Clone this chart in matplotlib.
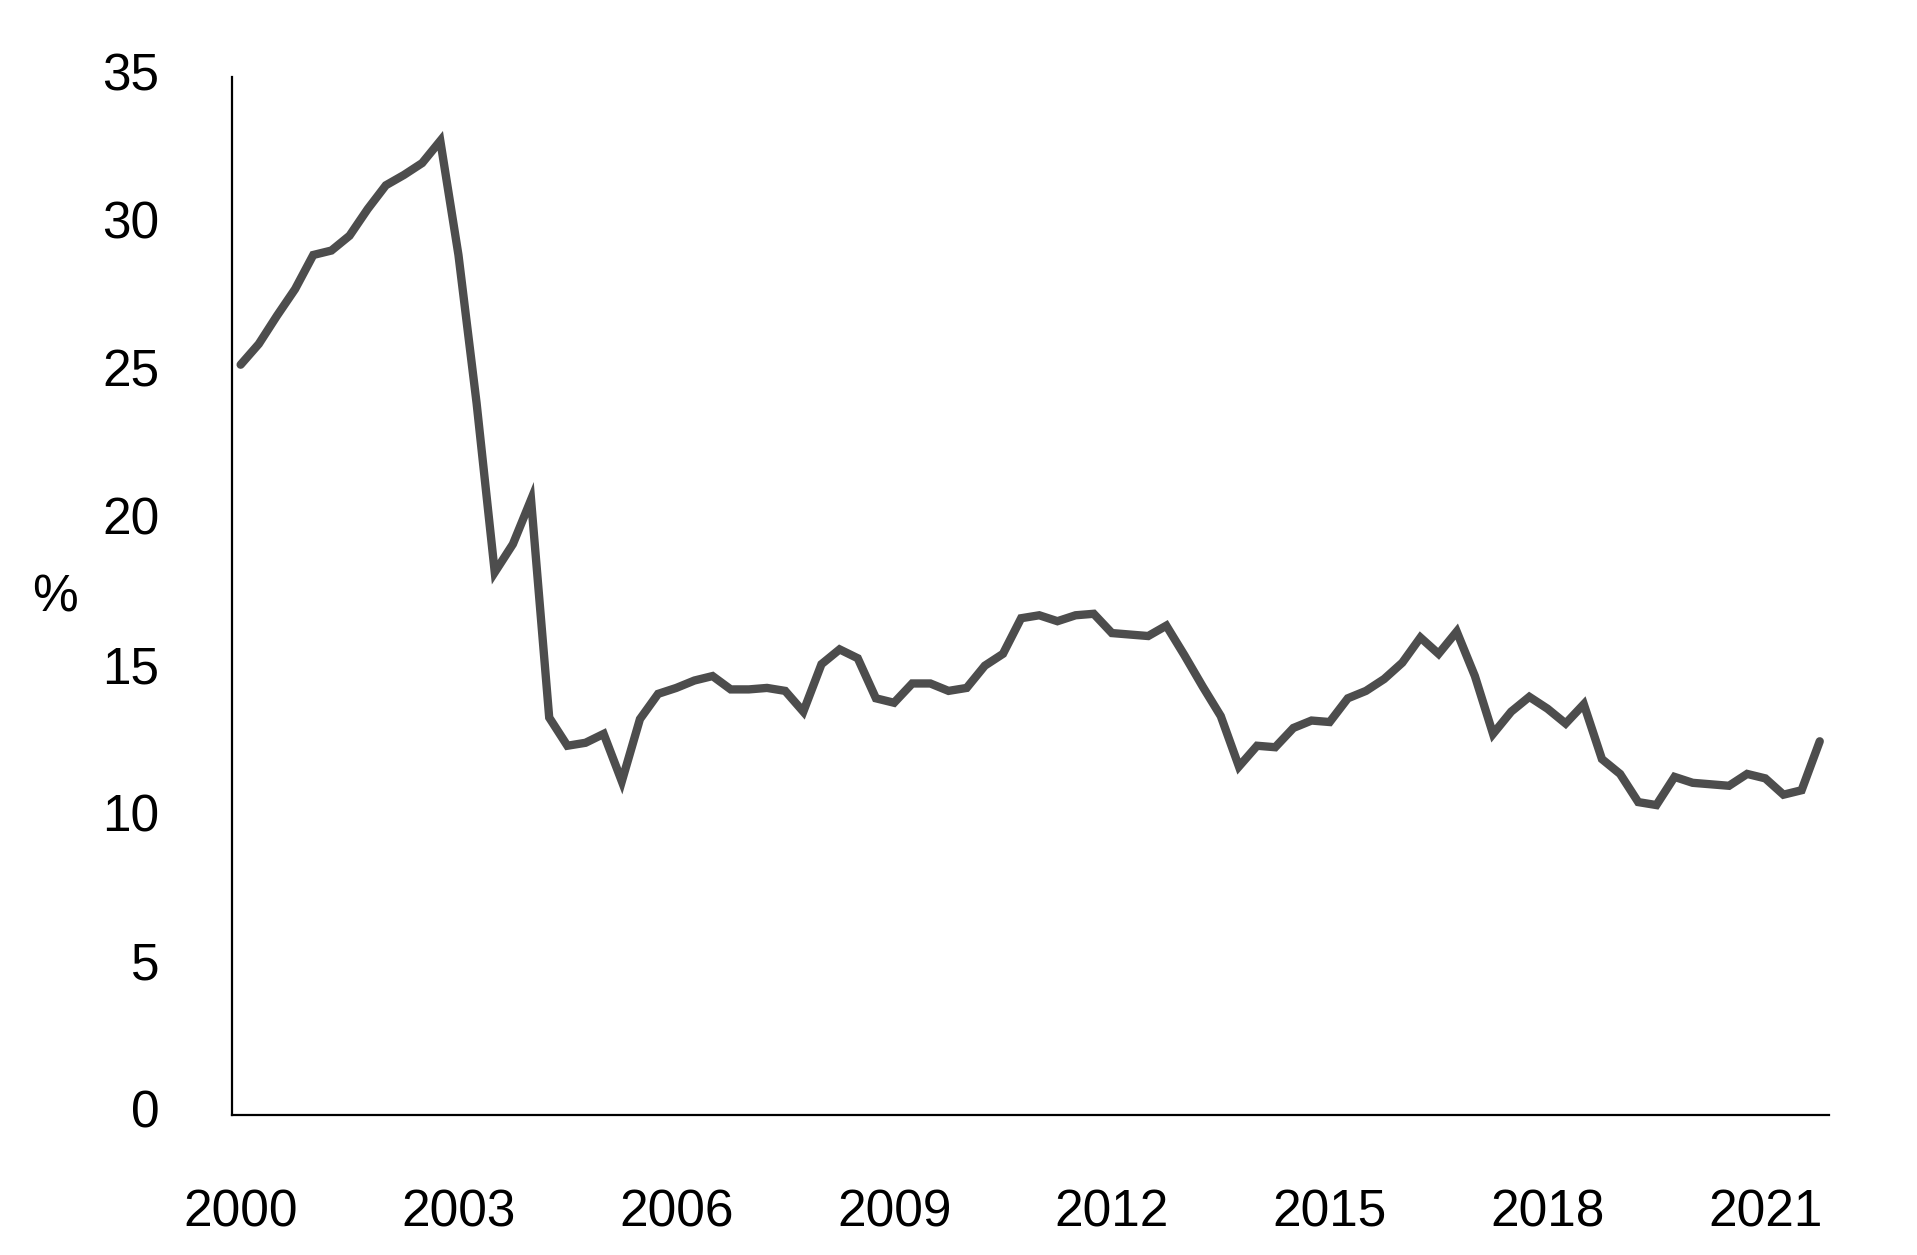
import numpy as np
import matplotlib
matplotlib.use('Agg')
import matplotlib.pyplot as plt
import matplotlib.transforms as mtransforms

plt.rcParams['font.family'] = ['Liberation Sans', 'DejaVu Sans']

# quarterly values, 2000Q1 - 2021Q4 (%)
values = [25.3, 26.0, 26.95, 27.85, 29.0, 29.15, 29.65, 30.55,
          31.35, 31.7, 32.1, 32.85, 29.0, 24.0, 18.3, 19.25,
          20.75, 13.4, 12.45, 12.55, 12.85, 11.25, 13.35, 14.2,
          14.4, 14.65, 14.8, 14.35, 14.35, 14.4, 14.3, 13.6,
          15.2, 15.7, 15.4, 14.05, 13.9, 14.55, 14.55, 14.3,
          14.4, 15.15, 15.55, 16.75, 16.85, 16.65, 16.85, 16.9,
          16.25, 16.2, 16.15, 16.5, 15.5, 14.45, 13.45, 11.75,
          12.45, 12.4, 13.05, 13.3, 13.25, 14.05, 14.3, 14.7,
          15.25, 16.1, 15.55, 16.3, 14.8, 12.85, 13.6, 14.1,
          13.7, 13.2, 13.85, 12.0, 11.5, 10.55, 10.45, 11.4,
          11.2, 11.15, 11.1, 11.5, 11.35, 10.8, 10.95, 12.6]
year_labels = ['2000', '2003', '2006', '2009', '2012', '2015', '2018', '2021']
y_ticks = [0, 5, 10, 15, 20, 25, 30, 35]

x = np.arange(len(values))

fig = plt.figure(figsize=(19.17, 12.55), dpi=100)
ax = fig.add_axes([0.1208, 0.1116, 0.954 - 0.1208, 0.9386 - 0.1116])

ax.plot(x, values, color='#4d4d4d', linewidth=6, solid_joinstyle='miter',
        solid_capstyle='round')

ax.set_xlim(-0.5, len(values) - 0.5)
ax.set_ylim(0, 35)
ax.set_xticks(x[::12])
ax.set_xticklabels(year_labels)
ax.set_yticks(y_ticks)

for side in ['top', 'right']:
    ax.spines[side].set_visible(False)
for side in ['left', 'bottom']:
    ax.spines[side].set_linewidth(1.6)
    ax.spines[side].set_color('black')

ax.tick_params(axis='both', length=0, labelsize=37)
ax.tick_params(axis='y', pad=52)
ax.tick_params(axis='x', pad=53)

# y labels sit a little above their gridline, as in the original
shift = mtransforms.ScaledTranslation(0, 0.06, fig.dpi_scale_trans)
for lbl in ax.get_yticklabels():
    lbl.set_transform(lbl.get_transform() + shift)

fig.text(55 / 1917, 1 - 598 / 1255, '%', fontsize=37, ha='center', va='center')

fig.savefig('out.png', dpi=100)
